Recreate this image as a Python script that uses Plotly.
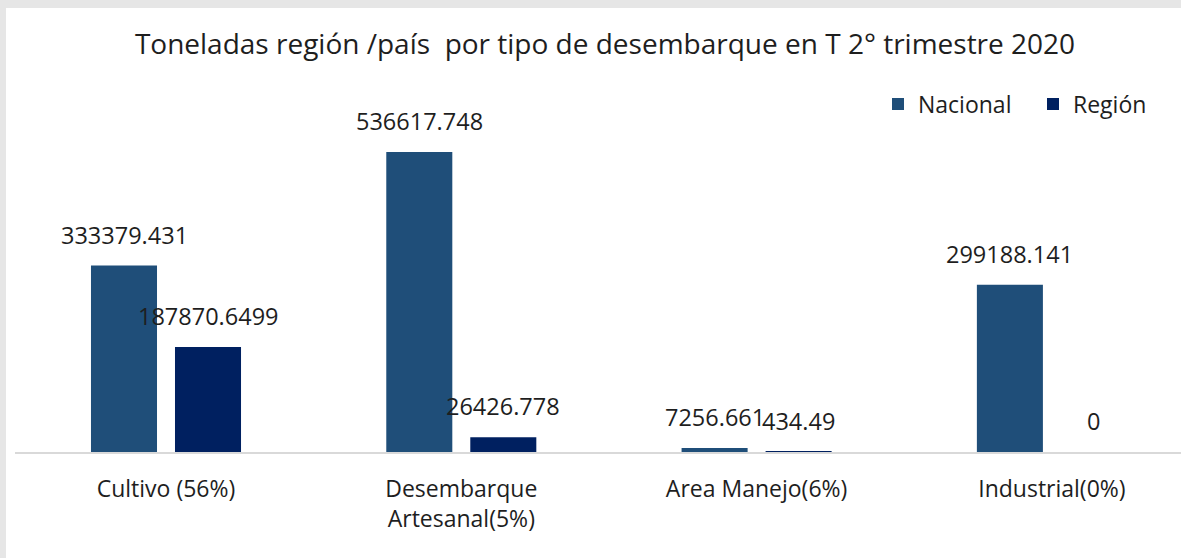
import plotly.graph_objects as go

categories = ["Cultivo (56%)", "Desembarque<br>Artesanal(5%)", "Area Manejo(6%)", "Industrial(0%)"]
nacional = [333379.431, 536617.748, 7256.661, 299188.141]
region = [187870.6499, 26426.778, 434.49, 0]
nacional_labels = ["333379.431", "536617.748", "7256.661", "299188.141"]
region_labels = ["187870.6499", "26426.778", "434.49", "0"]

C_NAC = "#1f4e79"
C_REG = "#002060"
TXT = "#1e1e1e"
FONT = "Open Sans"

W, H = 1181, 558
L, R, T, B = 15, 0, 100, 106
plot_w = W - L - R
plot_h = H - T - B

fig = go.Figure()
fig.add_trace(go.Bar(name="Nacional", x=categories, y=nacional, marker_color=C_NAC,
                     marker_line_width=0, hoverinfo="skip"))
fig.add_trace(go.Bar(name="Región", x=categories, y=region, marker_color=C_REG,
                     marker_line_width=0, hoverinfo="skip"))

annotations = []
for i, c in enumerate(categories):
    for vals, labs, shift in ((nacional, nacional_labels, -42), (region, region_labels, 42)):
        annotations.append(dict(x=c, y=vals[i], xref="x", yref="y", text=labs[i],
                                showarrow=False, xshift=shift, yanchor="bottom", yshift=13,
                                font=dict(family=FONT, size=23.5, color=TXT)))

# grey frame bands at top and left edges
shapes = [
    dict(type="rect", xref="paper", yref="paper",
         x0=-L / plot_w, x1=(6 - L) / plot_w, y0=-B / plot_h, y1=(plot_h + T) / plot_h,
         fillcolor="#e6e6e6", line_width=0, layer="above"),
    dict(type="rect", xref="paper", yref="paper",
         x0=-L / plot_w, x1=1, y0=(plot_h + T - 8) / plot_h, y1=(plot_h + T) / plot_h,
         fillcolor="#e6e6e6", line_width=0, layer="above"),
]

scale = 300 / 536617.748  # px per unit
ymax = plot_h / scale
cat_w = 295.3
first_c = 166

fig.update_layout(
    width=W, height=H,
    margin=dict(l=L, r=R, t=T, b=B, autoexpand=False),
    paper_bgcolor="white", plot_bgcolor="white",
    barmode="group", bargap=0.431, bargroupgap=0.214,
    title=dict(text="Toneladas región /país\u00a0 por tipo de desembarque en T 2° trimestre 2020",
               x=605 / W, xanchor="center", y=1 - 44 / H, yanchor="middle",
               font=dict(family=FONT, size=28, color=TXT)),
    legend=dict(orientation="h", x=(1188 - L) / plot_w, xanchor="right",
                y=(plot_h - (104 - T)) / plot_h, yanchor="middle",
                entrywidth=110,
                font=dict(family=FONT, size=23, color=TXT), bgcolor="rgba(0,0,0,0)"),
    xaxis=dict(range=[-(first_c - L) / cat_w, (W - R - first_c) / cat_w],
               showline=True, linecolor="#d9d9d9", linewidth=2,
               showgrid=False, ticks="", ticklabelstandoff=15,
               tickfont=dict(family=FONT, size=23, color=TXT), fixedrange=True),
    yaxis=dict(range=[0, ymax], visible=False, fixedrange=True),
    annotations=annotations,
    shapes=shapes,
    showlegend=True,
)

fig.write_html("out.html", config={"displayModeBar": False},
               post_script="document.body.style.margin='0';document.body.style.overflow='hidden';")
